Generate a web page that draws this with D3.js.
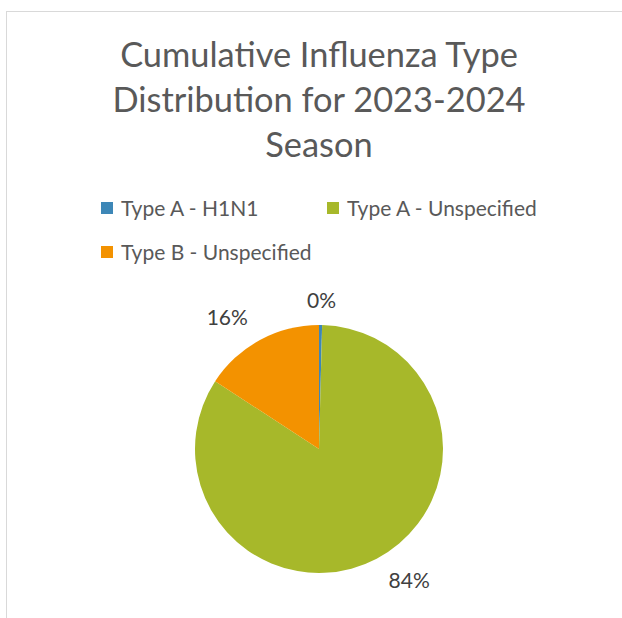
<!DOCTYPE html>
<html>
<head>
<meta charset="utf-8">
<script src="https://cdn.jsdelivr.net/npm/d3@7"></script>
<style>
  body { margin: 0; background: #fff; }
  svg { display: block; font-family: Lato, "Open Sans", sans-serif; }
</style>
</head>
<body>
<div id="chart"></div>
<script>
// data
const types = ["Type A - H1N1", "Type A - Unspecified", "Type B - Unspecified"]
const shares = [0.4, 83.8, 15.8]
const colors = ["#3d87b7", "#a7b82a", "#f39200"]
const titleLines = ["Cumulative Influenza Type", "Distribution for 2023-2024", "Season"]

const width = 622, height = 618
const svg = d3.select("#chart").append("svg")
  .attr("width", width)
  .attr("height", height)

// chart frame (runs off the right and bottom edges)
svg.append("rect")
  .attr("x", 6.5).attr("y", 11.5)
  .attr("width", 700).attr("height", 700)
  .attr("fill", "#fff")
  .attr("stroke", "#d9d9d9")

// title
svg.append("g").selectAll("text")
  .data(titleLines)
  .enter().append("text")
    .attr("x", 319)
    .attr("y", (d, i) => 67 + i * 45)
    .attr("text-anchor", "middle")
    .attr("font-size", 34.4)
    .attr("fill", "#595959")
    .text(d => d)

// legend
const legendPos = [[101, 216], [327, 216], [101, 260]]
const legend = svg.append("g").selectAll("g")
  .data(types)
  .enter().append("g")
    .attr("transform", (d, i) => "translate(" + legendPos[i][0] + "," + legendPos[i][1] + ")")
legend.append("rect")
  .attr("y", -14)
  .attr("width", 12).attr("height", 12)
  .attr("fill", (d, i) => colors[i])
legend.append("text")
  .attr("x", 20)
  .attr("font-size", 21)
  .attr("fill", "#595959")
  .text(d => d)

// pie
const cx = 319, cy = 449, radius = 124
const pie = d3.pie().sort(null).value(d => d)
const arcs = pie(shares)
const arc = d3.arc().innerRadius(0).outerRadius(radius)
const labelArc = d3.arc().innerRadius(radius + 17).outerRadius(radius + 17)

const g = svg.append("g").attr("transform", "translate(" + cx + "," + cy + ")")
g.selectAll("path")
  .data(arcs)
  .enter().append("path")
    .attr("d", arc)
    .attr("fill", (d, i) => colors[i])

// outside-end labels: nearest corner of the label sits on the label ring
const total = d3.sum(shares)
const clamp = v => Math.max(-1, Math.min(1, v))
g.selectAll(".lbl")
  .data(arcs)
  .enter().append("text")
    .attr("class", "lbl")
    .attr("dy", "0.35em")
    .attr("text-anchor", "middle")
    .attr("font-size", 21)
    .attr("fill", "#404040")
    .text(d => Math.round(d.data / total * 100) + "%")
    .attr("transform", function(d) {
      const p = labelArc.centroid(d)
      const mid = (d.startAngle + d.endAngle) / 2
      const w = this.getComputedTextLength()
      const x = p[0] + clamp(Math.sin(mid) * 3) * (w / 2 + 4)
      const y = p[1] - clamp(Math.cos(mid) * 3) * 7
      return "translate(" + x + "," + y + ")"
    })
</script>
</body>
</html>
